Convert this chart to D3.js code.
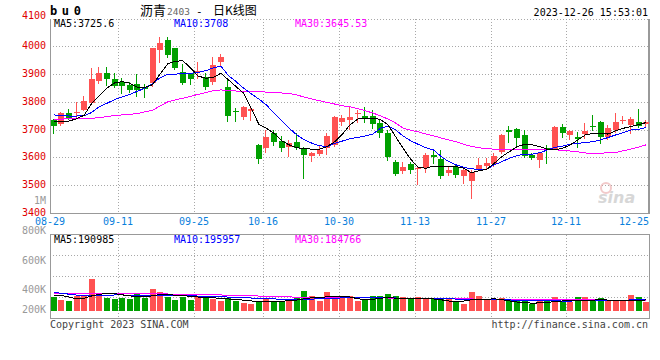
<!DOCTYPE html>
<html><head><meta charset="utf-8">
<script src="https://cdn.jsdelivr.net/npm/d3@7"></script>
<style>body{margin:0;background:#fff}svg{display:block}</style>
</head><body><svg id="c" width="660" height="360"></svg>
<script>
const dates = ["08-29","08-30","08-31","09-01","09-04","09-05","09-06","09-07","09-08","09-11","09-12","09-13","09-14","09-15","09-18","09-19","09-20","09-21","09-22","09-25","09-26","09-27","09-28","10-09","10-10","10-11","10-12","10-13","10-16","10-17","10-18","10-19","10-20","10-23","10-24","10-25","10-26","10-27","10-30","10-31","11-01","11-02","11-03","11-06","11-07","11-08","11-09","11-10","11-13","11-14","11-15","11-16","11-17","11-20","11-21","11-22","11-23","11-24","11-27","11-28","11-29","11-30","12-01","12-04","12-05","12-06","12-07","12-08","12-11","12-12","12-13","12-14","12-15","12-18","12-19","12-20","12-21","12-22","12-25"];
const open = [3735,3719,3759,3763,3771,3797,3875,3903,3881,3873, 3861,3864,3855,3867,3987,4023,3993,3909,3903,3906, 3891,3873,3945,3855,3766,3744,3767,3645,3633,3687, 3659,3636,3655,3633,3605,3612,3633,3645,3729,3735, 3756,3749,3749,3723,3687,3585,3552,3575,3559,3561, 3608,3593,3545,3567,3533,3516,3557,3569,3576,3621, 3697,3701,3681,3609,3589,3633,3629,3708,3681,3675, 3684,3713,3729,3672,3699,3734,3717,3729,3722];
const high = [3740,3765,3774,3798,3822,3921,3927,3924,3903,3885, 3873,3900,3864,3995,4032,4032,3995,3938,3905,3945, 3905,3963,3972,3881,3777,3785,3780,3647,3699,3699, 3677,3661,3689,3639,3621,3641,3687,3750,3753,3785, 3771,3780,3770,3735,3699,3591,3585,3585,3564,3615, 3627,3627,3569,3573,3558,3555,3597,3597,3617,3683, 3713,3705,3699,3615,3621,3645,3713,3720,3698,3693, 3723,3753,3732,3717,3759,3749,3747,3774,3735];
const low = [3687,3716,3738,3745,3770,3795,3869,3861,3852,3833, 3837,3822,3819,3857,3942,3960,3918,3863,3864,3887, 3845,3864,3929,3732,3732,3740,3735,3581,3621,3645, 3624,3605,3629,3527,3588,3610,3612,3640,3717,3701, 3729,3729,3705,3675,3591,3537,3545,3543,3503,3549, 3579,3525,3537,3528,3509,3455,3555,3561,3569,3617, 3657,3639,3603,3593,3564,3581,3629,3675,3668,3639, 3669,3699,3653,3668,3693,3723,3687,3711,3712];
const close = [3714,3760,3743,3765,3804,3881,3903,3881,3857,3857, 3843,3843,3846,3993,4013,3969,3923,3869,3882,3911, 3852,3933,3962,3750,3764,3783,3773,3593,3675,3657, 3635,3653,3635,3609,3617,3627,3677,3747,3743,3744, 3759,3741,3720,3687,3603,3540,3567,3555,3563,3609, 3600,3533,3555,3537,3555,3549,3573,3579,3605,3681, 3693,3669,3605,3597,3615,3627,3708,3689,3696,3665, 3696,3711,3672,3705,3729,3736,3737,3713,3726];
const ma5 = [3729,3730,3731,3739,3752,3795,3822,3850,3868,3873, 3867,3853,3852,3862,3900,3937,3946,3948,3922,3893, 3885,3888,3903,3879,3855,3831,3777,3719,3705,3687, 3660,3645,3635,3631,3630,3630,3639,3657,3684,3717, 3738,3741,3741,3737,3717,3675,3633,3593,3564,3561, 3569,3569,3569,3567,3561,3545,3552,3557,3579,3603, 3621,3639,3647,3645,3639,3629,3627,3633,3645,3663, 3681,3687,3687,3684,3696,3705,3711,3718,3725.6];
const ma10 = [3753,3751,3749,3749,3750,3762,3783,3795,3808,3818, 3827,3838,3849,3866,3887,3899,3900,3901,3903,3906, 3912,3922,3929,3894,3873,3849,3829,3810,3789,3759, 3732,3705,3681,3663,3651,3642,3639,3651,3659,3667, 3672,3677,3684,3705,3713,3699,3677,3660,3647,3635, 3627,3603,3585,3573,3564,3559,3557,3558,3573,3585, 3597,3607,3611,3612,3617,3627,3636,3641,3648,3651, 3653,3657,3663,3672,3681,3689,3699,3701,3708];
const ma30 = [3737,3738,3739,3739,3740,3741,3743,3747,3751,3753, 3755,3758,3764,3770,3785,3800,3807,3813,3820,3827, 3833,3840,3843,3840,3839,3839,3839,3838,3835,3833, 3832,3830,3825,3817,3810,3804,3798,3792,3786,3782, 3776,3768,3760,3750,3738,3724,3705,3698,3692,3684, 3678,3670,3663,3656,3647,3640,3635,3631,3630,3629, 3629,3629,3630,3630,3630,3630,3628,3625,3623,3620, 3616,3615,3615,3617,3618,3624,3630,3637,3645.53];
const volume = [246000,189000,172000,258000,258000,550000,304000,229000,206000,218000, 206000,304000,229000,378000,332000,246000,189000,246000,189000,246000, 246000,206000,172000,229000,172000,143000,120000,172000,218000,150000, 172000,172000,246000,344000,263000,172000,320000,206000,246000,258000, 172000,206000,258000,258000,292000,258000,236000,206000,246000,206000, 218000,206000,206000,172000,120000,327000,263000,206000,189000,229000, 189000,189000,172000,120000,189000,206000,246000,172000,160000,246000, 246000,206000,229000,189000,184000,184000,270000,236000,155000];
const volMa5 = [275000,270000,240000,212000,221000,260000,289000,300000,298000,279000, 260000,252000,250000,260000,289000,279000,274000,265000,252000,241000, 236000,226000,220000,207000,197000,188000,173000,166000,162000,164000, 168000,178000,188000,212000,229000,231000,245000,255000,255000,241000, 212000,193000,202000,221000,229000,223000,220000,217000,214000,214000, 207000,193000,173000,159000,173000,193000,197000,202000,210000,197000, 173000,154000,144000,135000,140000,149000,164000,173000,178000,181000, 183000,188000,193000,189000,183000,181000,178000,179000,190985];
const volMa10 = [320000,305000,290000,275000,265000,262000,265000,272000,276000,276000, 275000,272000,268000,265000,265000,266000,266000,265000,262000,258000, 256000,252000,246000,240000,235000,230000,224000,220000,214000,208000, 202000,200000,200000,202000,206000,210000,214000,220000,226000,230000, 232000,232000,230000,228000,226000,224000,222000,221000,220000,218000, 216000,213000,210000,206000,202000,198000,196000,195000,194000,192000, 190000,187000,183000,179000,176000,174000,173000,172000,172000,173000, 175000,178000,181000,184000,186000,188000,190000,193000,195957];
const volMa30 = [300000,300000,300000,300000,299000,299000,298000,298000,298000,297000, 297000,296000,296000,295000,294000,293000,291000,289000,287000,285000, 282000,279000,276000,273000,270000,266000,262000,258000,254000,250000, 246000,242000,240000,238000,236000,235000,234000,233000,232000,231000, 230000,229000,228000,226000,224000,222000,220000,218000,216000,214000, 212000,211000,210000,209000,208000,207000,206000,205000,204000,203000, 202000,201000,200000,199000,198000,197000,196000,195000,194000,193000, 192000,191000,190000,189000,188000,187000,186000,185000,184766];
const priceTicks = [4100,4000,3900,3800,3700,3600,3500,3400];
const dateTicks = ["08-29","09-11","09-25","10-16","10-30","11-13","11-27","12-11","12-25"];
const volTicks = [1000000,800000,600000,400000,200000];
const volTickLabels = ["1M","800K","600K","400K","200K"];

const UP = "#ff5252", DOWN = "#00a000", GRID = "#a8a8a8", FRAME = "#999";
const MONO = "'DejaVu Sans Mono', monospace";
const CJK = "'Noto Sans CJK SC', sans-serif";

const svg = d3.select("#c");
const L = 50, R = 650, T = 18.5, B = 213;
const VT = 234.5, VB = 318, VBASE = 311;

const x = d3.scaleBand().domain(dates).range([L, R]).padding(0);
const bw = x.bandwidth();
const cx = d => Math.round(x(d) + bw / 2 - 3);
const y = d3.scaleLinear().domain([3400, 4100]).range([B, T]);
const vy = d3.scaleLinear().domain([0, 1000000]).range([VBASE, VBASE - 58]);
const vLabelY = d3.scaleLinear().domain([400000, 1000000]).range([293.3, 204]);

const idx = d3.range(dates.length);

// ---------- header ----------
svg.append("text").attr("x", 50).attr("y", 15).attr("font-family", MONO).attr("font-weight", "bold")
  .attr("font-size", 12).attr("letter-spacing", 4.6).attr("fill", "#000").text("bu0");
svg.append("text").attr("x", 140).attr("y", 15).attr("font-family", CJK).attr("font-size", 13).text("沥青");
svg.append("text").attr("x", 167).attr("y", 15).attr("font-family", MONO).attr("font-size", 9.5).attr("fill", "#666").text("2403");
svg.append("text").attr("x", 196).attr("y", 15).attr("font-family", MONO).attr("font-size", 11).text("-");
svg.append("text").attr("x", 213).attr("y", 15).attr("font-family", CJK).attr("font-size", 12).text("日K线图");
svg.append("text").attr("x", 648).attr("y", 16).attr("text-anchor", "end").attr("font-family", MONO).attr("font-size", 10).text("2023-12-26 15:53:01");

// ---------- grid main ----------
const g = svg.append("g").attr("shape-rendering", "crispEdges");
g.selectAll(".hg").data(priceTicks.filter(v => v > 3400)).join("line")
  .attr("x1", L).attr("x2", R).attr("y1", d => Math.round(y(d)) + 0.5).attr("y2", d => Math.round(y(d)) + 0.5)
  .attr("stroke", GRID).attr("stroke-dasharray", "1,2");
const innerDates = dateTicks.slice(1, -1);
g.selectAll(".vg").data(innerDates).join("line")
  .attr("x1", d => Math.round(x(d)) + 0.5).attr("x2", d => Math.round(x(d)) + 0.5)
  .attr("y1", T).attr("y2", B).attr("stroke", GRID).attr("stroke-dasharray", "1,2");
g.selectAll(".vg2").data(innerDates).join("line")
  .attr("x1", d => Math.round(x(d)) + 0.5).attr("x2", d => Math.round(x(d)) + 0.5)
  .attr("y1", VT).attr("y2", VB).attr("stroke", GRID).attr("stroke-dasharray", "1,2");
// volume horizontal grid (quarters of the panel)
g.selectAll(".vh").data([1, 2, 3]).join("line")
  .attr("x1", L).attr("x2", R)
  .attr("y1", d => Math.round(VT + (VB - VT) * d / 4) + 0.5).attr("y2", d => Math.round(VT + (VB - VT) * d / 4) + 0.5)
  .attr("stroke", GRID).attr("stroke-dasharray", "1,2");

// frames
g.append("line").attr("x1", L + 0.5).attr("x2", L + 0.5).attr("y1", T).attr("y2", B + 1).attr("stroke", FRAME);
g.append("line").attr("x1", L).attr("x2", R).attr("y1", B + 0.5).attr("y2", B + 0.5).attr("stroke", FRAME);
g.append("line").attr("x1", R - 1).attr("x2", R - 1).attr("y1", T).attr("y2", B + 1).attr("stroke", FRAME).attr("stroke-width", 2);
g.append("rect").attr("x", L + 0.5).attr("y", VT).attr("width", R - L - 1.5).attr("height", VB - VT)
  .attr("fill", "none").attr("stroke", FRAME);

// ---------- axes labels ----------
const yAxis = d3.axisLeft(y).tickValues(priceTicks).tickSize(0).tickPadding(0).tickFormat(d3.format("d"));
const ya = svg.append("g").attr("transform", `translate(${L - 4},0)`).call(yAxis);
ya.select(".domain").remove();
ya.selectAll("text").attr("font-family", MONO).attr("font-size", 10).attr("fill", "#e00000")
  .attr("dy", "0.25em").attr("y", d => d === 4100 ? -3 : 0);

svg.append("g").selectAll("text").data(dateTicks).join("text")
  .attr("x", d => Math.min(Math.round(x(d)), R - 16)).attr("y", 225)
  .attr("text-anchor", "middle").attr("font-family", MONO).attr("font-size", 10).attr("fill", "#0a80dc")
  .text(d => d);

svg.append("g").selectAll("text").data(volTicks).join("text")
  .attr("x", L - 4).attr("y", d => Math.min(vLabelY(d), 313.3))
  .attr("text-anchor", "end").attr("font-family", MONO).attr("font-size", 10).attr("fill", "#999")
  .text((d, i) => volTickLabels[i]);

// ---------- watermark ----------
const wm = svg.append("g").attr("opacity", 0.55);
wm.append("circle").attr("cx", 606).attr("cy", 188).attr("r", 5).attr("fill", "none").attr("stroke", "#e8a0a0").attr("stroke-width", 2);
wm.append("text").attr("x", 598).attr("y", 203).attr("font-family", "'DejaVu Sans', sans-serif").attr("font-style", "italic")
  .attr("font-weight", "bold").attr("font-size", 16).attr("fill", "#b8b8b8").text("sina");

// ---------- candles ----------
const cg = svg.append("g").attr("shape-rendering", "crispEdges");
const col = i => close[i] >= open[i] ? UP : DOWN;
cg.selectAll(".wick").data(idx).join("line")
  .attr("x1", i => cx(dates[i]) + 2.5).attr("x2", i => cx(dates[i]) + 2.5)
  .attr("y1", i => Math.round(y(high[i]))).attr("y2", i => Math.round(y(low[i])) + 1)
  .attr("stroke", col);
cg.selectAll(".body").data(idx).join("rect")
  .attr("x", i => cx(dates[i])).attr("width", 6)
  .attr("y", i => Math.round(y(Math.max(open[i], close[i]))))
  .attr("height", i => Math.max(1, Math.round(y(Math.min(open[i], close[i]))) - Math.round(y(Math.max(open[i], close[i])))))
  .attr("fill", col);

// ---------- MA lines ----------
const mg = svg.append("g").attr("fill", "none").attr("shape-rendering", "crispEdges");
const mline = arr => d3.line().x(i => x(dates[i]) + bw / 2).y(i => y(arr[i]))(idx);
[[ma30, "#ff00ff"], [ma10, "#0000ff"], [ma5, "#000"]].forEach(([a, c]) =>
  mg.append("path").attr("d", mline(a)).attr("stroke", c));

// ---------- volume ----------
const vg = svg.append("g").attr("shape-rendering", "crispEdges");
vg.selectAll("rect").data(idx).join("rect")
  .attr("x", i => cx(dates[i])).attr("width", 6)
  .attr("y", i => Math.round(vy(volume[i])))
  .attr("height", i => VBASE - Math.round(vy(volume[i])))
  .attr("fill", col);
const vline = arr => d3.line().x(i => x(dates[i]) + bw / 2).y(i => vy(arr[i]))(idx);
[[volMa30, "#ff00ff"], [volMa10, "#0000ff"], [volMa5, "#000"]].forEach(([a, c]) =>
  vg.append("path").attr("d", vline(a)).attr("stroke", c).attr("fill", "none"));

// ---------- legends ----------
const legend = (yy, vals, fmt) => {
  const items = [["MA5:", "#000", 54], ["MA10:", "#0000ff", 174], ["MA30:", "#ff00ff", 295]];
  items.forEach(([lab, c, xx], k) => svg.append("text").attr("x", xx).attr("y", yy)
    .attr("font-family", MONO).attr("font-size", 10).attr("fill", c).text(lab + fmt[k](vals[k])));
};
legend(26.7, [ma5[78], ma10[78], ma30[78]], [d3.format(".1f"), d3.format("d"), d3.format(".2f")]);
legend(242.5, [volMa5[78], volMa10[78], volMa30[78]], [d3.format("d"), d3.format("d"), d3.format("d")]);

// ---------- footer ----------
svg.append("text").attr("x", 50).attr("y", 327.5).attr("font-family", MONO).attr("font-size", 10).attr("fill", "#444")
  .text("Copyright 2023 SINA.COM");
svg.append("text").attr("x", 648).attr("y", 327.5).attr("text-anchor", "end").attr("font-family", MONO).attr("font-size", 10).attr("fill", "#444")
  .text("http://finance.sina.com.cn");
</script></body></html>
